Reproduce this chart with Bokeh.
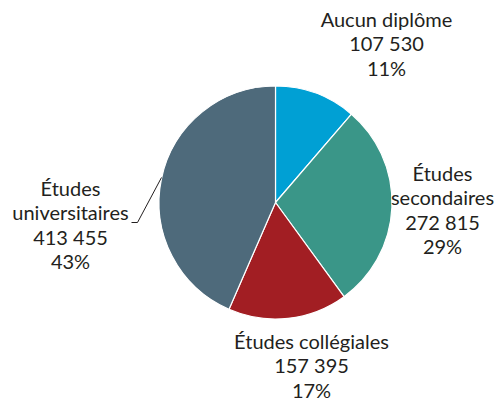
from math import pi
from bokeh.plotting import figure
from bokeh.models import Range1d, ColumnDataSource
from bokeh.core.properties import value
from bokeh.embed import file_html
from bokeh.resources import INLINE

# ---- data ----
categories = ["Aucun diplôme", "Études secondaires", "Études collégiales", "Études universitaires"]
label_lines = [["Aucun diplôme"], ["Études", "secondaires"], ["Études collégiales"], ["Études", "universitaires"]]
counts = [107530, 272815, 157395, 413455]
count_labels = ["107 530", "272 815", "157 395", "413 455"]
pct_labels = ["11%", "29%", "17%", "43%"]
colors = ["#00a0d4", "#3a9688", "#a21e23", "#4e6a7b"]

# ---- layout (picture pixel coordinates) ----
W, H = 503, 402
cx, cy, R = 275, 202, 116.5
label_anchor = [(386, 18), (442, 172), (311, 340), (70, 187)]   # centre of first line
line_step = 24.6
font = "Lato"
fsize = "20px"
txt_color = "#231f20"

def Y(y):
    return H - y

p = figure(width=W, height=H, output_backend="svg", toolbar_location=None,
           x_range=Range1d(0, W), y_range=Range1d(0, H), min_border=0)
p.axis.visible = False
p.grid.visible = False
p.outline_line_color = None
p.background_fill_color = "white"

total = float(sum(counts))
starts, ends = [], []
a = pi / 2
for c in counts:
    starts.append(a)
    a = a - 2 * pi * c / total
    ends.append(a)

src = ColumnDataSource(dict(start=starts, end=ends, color=colors, cat=categories))
p.wedge(x=cx, y=Y(cy), radius=R, start_angle="start", end_angle="end", direction="clock",
        fill_color="color", line_color="white", line_width=1.2, source=src)

# leader line for universitaires
p.line(x=[161, 137, 131], y=[Y(177), Y(222), Y(222)], line_color="#231f20", line_width=1)

xs, ys, ts = [], [], []
for i in range(len(categories)):
    lines = label_lines[i] + [count_labels[i], pct_labels[i]]
    ax, ay = label_anchor[i]
    for j, t in enumerate(lines):
        xs.append(ax)
        ys.append(Y(ay + j * line_step))
        ts.append(t)

p.text(x=xs, y=ys, text=ts, text_align="center", text_baseline="middle",
       text_font=value(font), text_font_size=fsize, text_color=txt_color)

open("out.html", "w").write(file_html(p, INLINE))
